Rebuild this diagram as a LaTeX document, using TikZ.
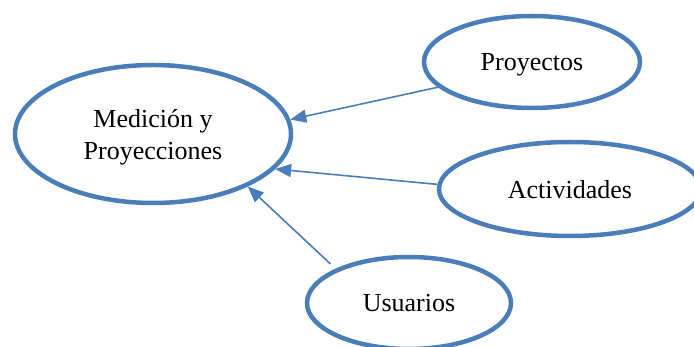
\documentclass[tikz,border=0pt]{standalone}
\usepackage{fontspec}
\setmainfont{Liberation Serif}
\usetikzlibrary{shapes.geometric,arrows.meta}
\definecolor{oblue}{RGB}{74,126,187}
\begin{document}
\begin{tikzpicture}[x=1pt,y=-1pt,
  bubble/.style={ellipse,draw=oblue,line width=4.5pt,inner sep=0pt,align=center,
    text depth=0pt,font=\fontsize{26}{32}\selectfont},
  link/.style={draw=oblue,line width=1.6pt,-{Triangle[length=16pt,width=13pt]}}]
\useasboundingbox (0,0) rectangle (694,347);
\clip (0,0) rectangle (694,347);
\node[bubble,minimum width=276pt,minimum height=138pt] (med) at (153,134) {Medición y\\Proyecciones};
\node[bubble,minimum width=216pt,minimum height=92pt] (pro) at (532,62) {Proyectos};
\node[bubble,minimum width=262pt,minimum height=94pt] (act) at (570,189) {Actividades};
\node[bubble,minimum width=204pt,minimum height=92pt] (usu) at (409,303) {Usuarios};
\draw[link] (pro.195) -- (med.6);
\draw[link] (act.178) -- (med.-16);
\draw[link,shorten <=7pt] (usu.155) -- (med.-29);
\end{tikzpicture}
\end{document}
